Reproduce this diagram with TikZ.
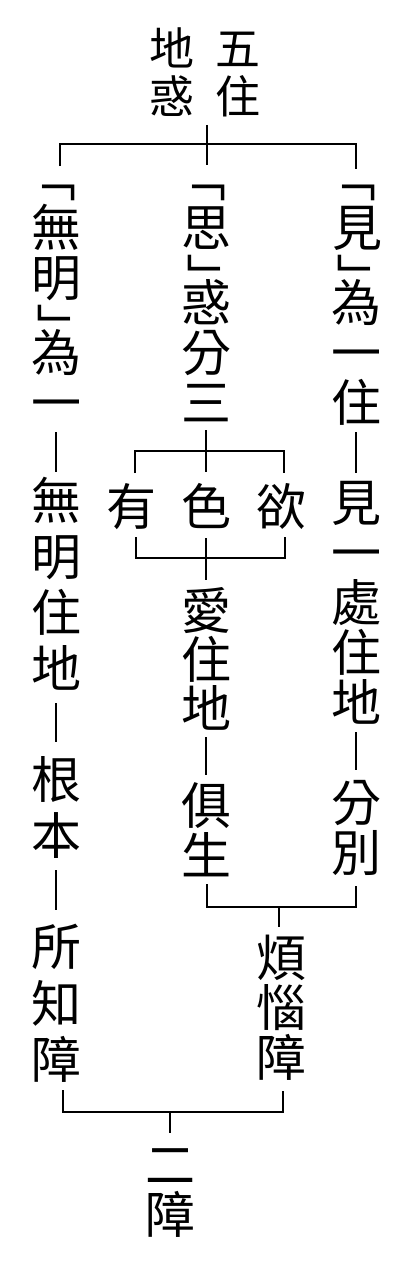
\documentclass[tikz,border=0pt]{standalone}
\usepackage{fontspec}
\newfontfamily\cjk{Noto Sans CJK TC}
\newcommand\inkbox[1]{\begingroup\cjk\fontsize{50}{50}\selectfont
  \count255=\XeTeXcharglyph`#1\relax
  \hskip-\XeTeXglyphbounds1 \count255 #1\hskip-\XeTeXglyphbounds3 \count255 \endgroup}
\begin{document}
\begin{tikzpicture}[x=1pt,y=-1pt,
  ch/.style={font=\cjk\fontsize{50}{50}\selectfont, inner sep=0pt, text height=44pt, text depth=6pt},
  chs/.style={font=\cjk\fontsize{45}{45}\selectfont, inner sep=0pt, text height=39.6pt, text depth=5.4pt},
  br/.style={inner sep=0pt, rotate=-90},
  ln/.style={line width=1.5pt, line cap=butt}]
\useasboundingbox (0,0) rectangle (413,1271);
% top
\node[chs] (t1) at (172,48) {地};
\node[chs] (t2) at (172,96) {惑};
\node[chs] (t3) at (238,48) {五};
\node[chs] (t4) at (238,96) {住};
% left column
\node[br] (a0) at (53.3,193.5) {\inkbox{「}};
\node[ch] (a1) at (56,227.5) {無};
\node[ch] (a2) at (56,277.5) {明};
\node[br] (a3) at (54,329.5) {\inkbox{」}};
\node[ch] (a4) at (56,352.5) {為};
\node[ch] (a5) at (56,402.5) {一};
\node[ch] (a6) at (56,500) {無};
\node[ch] (a7) at (56,556) {明};
\node[ch] (a8) at (56,612) {住};
\node[ch] (a9) at (56,668) {地};
\node[ch] (a10) at (56,779) {根};
\node[ch] (a11) at (56,835) {本};
\node[ch] (a12) at (56,946) {所};
\node[ch] (a13) at (56,1003) {知};
\node[ch] (a14) at (56,1059) {障};
% middle column
\node[br] (b0) at (203.3,193.5) {\inkbox{「}};
\node[ch] (b1) at (206,227.5) {思};
\node[br] (b2) at (204,279.5) {\inkbox{」}};
\node[ch] (b3) at (206,302.5) {惑};
\node[ch] (b4) at (206,352.5) {分};
\node[ch] (b5) at (206,402.5) {三};
\node[ch] (c1) at (131,506) {有};
\node[ch] (c2) at (206,506) {色};
\node[ch] (c3) at (281,506) {欲};
\node[ch] (b6) at (206,610) {愛};
\node[ch] (b7) at (206,659) {住};
\node[ch] (b8) at (206,708) {地};
\node[ch] (b9) at (206,805) {俱};
\node[ch] (b10) at (206,855) {生};
% right column
\node[br] (r0) at (353.5,193.5) {\inkbox{「}};
\node[ch] (r1) at (357,227.5) {見};
\node[br] (r2) at (354,279.5) {\inkbox{」}};
\node[ch] (r3) at (356,302.5) {為};
\node[ch] (r4) at (356,352.5) {一};
\node[ch] (r5) at (356,402.5) {住};
\node[ch] (r6) at (356,502.5) {見};
\node[ch] (r7) at (356,552.5) {一};
\node[ch] (r8) at (356,602.5) {處};
\node[ch] (r9) at (356,652.5) {住};
\node[ch] (r10) at (356,702.5) {地};
\node[ch] (r11) at (356,802.5) {分};
\node[ch] (r12) at (356,852.5) {別};
% lower
\node[ch] (d1) at (281,957.5) {煩};
\node[ch] (d2) at (281,1007.5) {惱};
\node[ch] (d3) at (281,1057.5) {障};
\node[ch] (e1) at (170,1164) {二};
\node[ch] (e2) at (170,1214) {障};
% junction coordinates
\coordinate (ttop) at (207,125);
\coordinate (tbot) at (207,165);
\coordinate (tj) at (207,144);
\coordinate (tl) at (60,166);
\coordinate (tr) at (356,169);
\coordinate (uj) at (207,451);
\coordinate (u1) at (135,473);
\coordinate (u2) at (284,473);
\coordinate (vj) at (208,558);
\coordinate (v1) at (136,537);
\coordinate (v2) at (285,537);
\coordinate (wj) at (279,907);
\coordinate (w1) at (207,884);
\coordinate (w2) at (356,886);
\coordinate (xj) at (170,1112);
\coordinate (x1) at (63,1090);
\coordinate (x2) at (283,1091);
% connectors
\draw[ln] (ttop) -- (tbot);
\draw[ln] (tl) |- (tj) -| (tr);
\draw[ln, shorten <=4.5pt, shorten >=3pt] (a5.south) -- (a6.north);
\draw[ln, shorten <=10pt, shorten >=12pt] (a9.south) -- (a10.north);
\draw[ln, shorten <=10pt, shorten >=11pt] (a11.south) -- (a12.north);
\draw[ln, shorten <=2.5pt, shorten >=9pt] (b5.south) -- (b5.south |- c2.north);
\draw[ln] (u1) |- (uj) -| (u2);
\draw[ln] (v1) |- (vj) -| (v2);
\draw[ln, shorten <=7pt, shorten >=5pt] (c2.south) -- (b6.north);
\draw[ln, shorten <=4pt, shorten >=5pt] (b8.south) -- (b9.north);
\draw[ln, shorten <=4.5pt, shorten >=4.5pt] (r5.south) -- (r6.north);
\draw[ln, shorten <=4.5pt, shorten >=7.5pt] (r10.south) -- (r11.north);
\draw[ln] (w1) |- (wj) -| (w2);
\draw[ln, shorten >=5pt] (wj) -- (wj |- d1.north);
\draw[ln] (x1) |- (xj) -| (x2);
\draw[ln, shorten >=6pt] (xj) -- (xj |- e1.north);
\end{tikzpicture}
\end{document}
